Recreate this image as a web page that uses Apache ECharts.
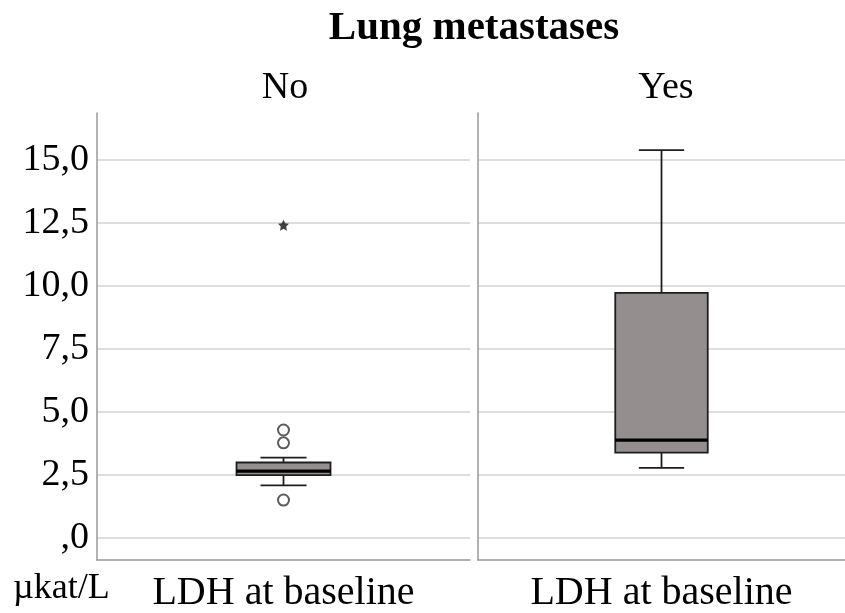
<!DOCTYPE html>
<html>
<head>
<meta charset="utf-8">
<script src="https://cdn.jsdelivr.net/npm/echarts@6/dist/echarts.min.js"></script>
<style>
  html, body { margin: 0; padding: 0; background: #ffffff; }
  #chart { width: 845px; height: 613px; }
</style>
</head>
<body>
<div id="chart"></div>
<script>
// Panel headings and the shared category
const panels = ['No', 'Yes'];
const category = ['LDH at baseline'];

// Five-number summaries, LDH in µkat/L: [min, Q1, median, Q3, max]
const boxNo = [2.09, 2.50, 2.66, 3.00, 3.19];
const boxYes = [2.79, 3.39, 3.89, 9.73, 15.40];

// Points beyond the whiskers (No group)
const outliersNo = [4.29, 3.78, 1.51];
const extremesNo = [12.42];

// Value axis
const yTicks = [0, 2.5, 5, 7.5, 10, 12.5, 15];
const yMin = -0.87;
const yMax = 16.87;

const serif = '"Liberation Serif", "DejaVu Serif", serif';
const gridColor = '#d3d3d3';
const axisColor = '#9a9a9a';

function commaLabel(v) {
  const s = Number(v).toFixed(1).replace('.', ',');
  return s.startsWith('0') ? s.slice(1) : s;
}

// Box drawn through the axis scales: box, whiskers with short caps, thick median
function renderBox(params, api) {
  const cat = api.value(0);
  const pMin = api.coord([cat, api.value(1)]);
  const pQ1 = api.coord([cat, api.value(2)]);
  const pMed = api.coord([cat, api.value(3)]);
  const pQ3 = api.coord([cat, api.value(4)]);
  const pMax = api.coord([cat, api.value(5)]);
  const band = api.size([1, 0])[0];
  const hw = band * 0.126;
  const cw = hw * 0.49;
  const x = pMed[0];
  const line = { stroke: '#1e1e1e', lineWidth: 1.8 };
  return {
    type: 'group',
    children: [
      { type: 'line', shape: { x1: x, y1: pMax[1], x2: x, y2: pQ3[1] }, style: line },
      { type: 'line', shape: { x1: x, y1: pQ1[1], x2: x, y2: pMin[1] }, style: line },
      { type: 'line', shape: { x1: x - cw, y1: pMax[1], x2: x + cw, y2: pMax[1] }, style: line },
      { type: 'line', shape: { x1: x - cw, y1: pMin[1], x2: x + cw, y2: pMin[1] }, style: line },
      { type: 'rect', shape: { x: x - hw, y: pQ3[1], width: hw * 2, height: pQ1[1] - pQ3[1] },
        style: { fill: '#948f8e', stroke: '#1e1e1e', lineWidth: 1.8 } },
      { type: 'line', shape: { x1: x - hw, y1: pMed[1], x2: x + hw, y2: pMed[1] },
        style: { stroke: '#000000', lineWidth: 3.2 } }
    ]
  };
}

function xAxisFor(gridIndex) {
  return {
    type: 'category',
    gridIndex: gridIndex,
    data: category,
    axisLine: { show: true, onZero: false, lineStyle: { color: axisColor, width: 1.5 } },
    axisTick: { show: false },
    axisLabel: { fontFamily: serif, fontSize: 40, color: '#000', margin: 13 }
  };
}

function yAxisFor(gridIndex, labels) {
  return {
    type: 'value',
    gridIndex: gridIndex,
    min: yMin,
    max: yMax,
    axisLine: { show: true, lineStyle: { color: axisColor, width: 1.5 } },
    axisTick: { show: false, customValues: yTicks },
    axisLabel: {
      show: labels,
      customValues: yTicks,
      formatter: commaLabel,
      fontFamily: serif,
      fontSize: 38,
      color: '#000',
      margin: 8
    },
    splitLine: { show: true, lineStyle: { color: gridColor, width: 1.5 } }
  };
}

const chart = echarts.init(document.getElementById('chart'), null, { renderer: 'canvas' });

const starPath = 'path://M0,-10L2.9,-4L9.5,-3.1L4.7,1.5L5.9,8.1L0,5L-5.9,8.1L-4.7,1.5L-9.5,-3.1L-2.9,-4Z';

chart.setOption({
  animation: false,
  backgroundColor: '#ffffff',
  title: [
    { text: 'Lung metastases', left: 469, top: 3, textAlign: 'center',
      textStyle: { fontFamily: serif, fontSize: 41, fontWeight: 'bold', color: '#000' } },
    { text: panels[0], left: 280, top: 64, textAlign: 'center',
      textStyle: { fontFamily: serif, fontSize: 38, fontWeight: 'normal', color: '#000' } },
    { text: panels[1], left: 661, top: 64, textAlign: 'center',
      textStyle: { fontFamily: serif, fontSize: 38, fontWeight: 'normal', color: '#000' } },
    { text: 'µkat/L', left: 8, top: 566,
      textStyle: { fontFamily: serif, fontSize: 36, fontWeight: 'normal', color: '#000' } }
  ],
  grid: [
    { left: 97, right: 375, top: 113, bottom: 53 },
    { left: 478, right: 0, top: 113, bottom: 53 }
  ],
  xAxis: [xAxisFor(0), xAxisFor(1)],
  yAxis: [yAxisFor(0, true), yAxisFor(1, false)],
  series: [
    {
      type: 'custom', xAxisIndex: 0, yAxisIndex: 0,
      renderItem: renderBox,
      encode: { x: 0, y: [1, 2, 3, 4, 5] },
      data: [[0].concat(boxNo)],
      z: 3
    },
    {
      type: 'custom', xAxisIndex: 1, yAxisIndex: 1,
      renderItem: renderBox,
      encode: { x: 0, y: [1, 2, 3, 4, 5] },
      data: [[0].concat(boxYes)],
      z: 3
    },
    {
      type: 'scatter', xAxisIndex: 0, yAxisIndex: 0,
      symbol: 'emptyCircle', symbolSize: 11,
      itemStyle: { color: '#333', borderWidth: 1.8 },
      data: outliersNo.map(v => [0, v]),
      z: 4
    },
    {
      type: 'scatter', xAxisIndex: 0, yAxisIndex: 0,
      symbol: starPath, symbolSize: 11,
      itemStyle: { color: '#111' },
      data: extremesNo.map(v => [0, v]),
      z: 4
    }
  ]
});
</script>
</body>
</html>
